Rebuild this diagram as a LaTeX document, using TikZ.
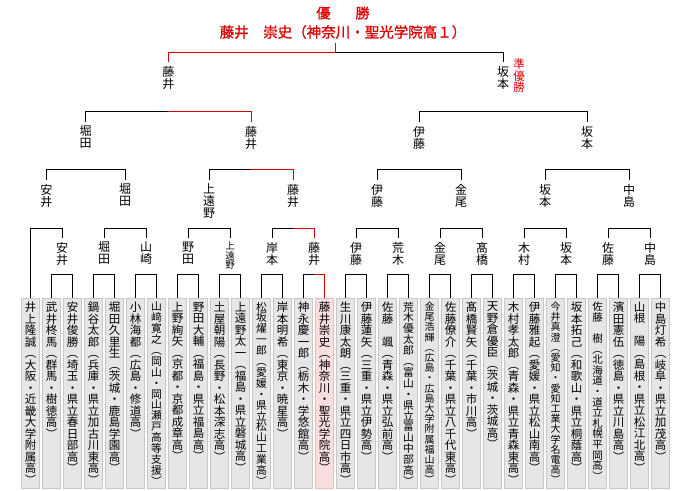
\documentclass[tikz,border=0pt]{standalone}
\usepackage{fontspec}
\newfontfamily\jp{Noto Sans CJK JP}
\newfontfamily\jpbold[FakeBold=1.2]{Noto Sans CJK JP}
\usepackage{tikz}

\definecolor{winred}{RGB}{220,0,0}
\definecolor{boxgray}{RGB}{230,230,230}
\definecolor{boxedge}{RGB}{200,200,200}
\definecolor{boxpink}{RGB}{248,222,222}
\definecolor{pinkedge}{RGB}{232,190,190}

% one character per line
\def\tateend{}
\def\tatestep#1{\ifx#1\tateend\else\hbox to 16pt{\hss#1\hss}\expandafter\tatestep\fi}
\newcommand\tate[3]{\vbox{\jp\fontsize{#1pt}{#2pt}\selectfont
  \baselineskip=#2pt\lineskiplimit=-100pt\expandafter\tatestep#3\tateend}}
\newcommand\tatebox[3]{\vbox to 182pt{\jp\fontsize{#1pt}{#2pt}\selectfont
  \baselineskip=#2pt\lineskiplimit=-100pt\expandafter\tatestep#3\tateend\vss}}

\tikzset{
  pbox/.style={draw=boxedge, fill=boxgray, line width=0.8pt, anchor=north,
    minimum width=18pt, inner xsep=1pt, inner ysep=4pt, outer sep=0pt},
  winbox/.style={pbox, draw=pinkedge, fill=boxpink},
  lbl/.style={anchor=north, inner sep=0pt, outer sep=4pt},
  win/.style={draw=winred}
}

\begin{document}
\begin{tikzpicture}[x=1pt, y=-1pt, line width=1pt]

\fill[white] (0,0) rectangle (680,490);
\useasboundingbox (0,0) rectangle (680,490);

% Champion
\node[text=winred, inner sep=0pt] (yusho) at (343,13)
  {\jpbold\fontsize{14pt}{14pt}\selectfont 優\hspace{25pt}勝};
\node[text=winred, inner sep=0pt] (title) at (343,32)
  {\jpbold\fontsize{14.5pt}{15pt}\selectfont 藤井　崇史（神奈川・聖光学院高１）};

% Players
\foreach \i/\fs/\ls/\txt in {0/11.5/11.5/井上隆誠︵大阪・近畿大学附属高︶,
    1/11.5/11.5/武井柊馬︵群馬・樹徳高︶,
    2/11.5/11.5/安井俊勝︵埼玉・県立春日部高︶,
    3/11.5/11.5/鍋谷太郎︵兵庫・県立加古川東高︶,
    4/11.5/11.5/堀田久里生︵茨城・鹿島学園高︶,
    5/11.5/11.5/小林海都︵広島・修道高︶,
    6/10.8/10.9/山﨑寛之︵岡山・岡山瀬戸高等支援︶,
    7/11.5/11.5/上野絢矢︵京都・京都成章高︶,
    8/11.5/11.5/野田大輔︵福島・県立福島高︶,
    9/11.5/11.5/土屋朝陽︵長野・松本深志高︶,
    10/11.5/11.5/上遠野太一︵福島・県立磐城高︶,
    11/10.8/10.9/松坂燿一郎︵愛媛・県立松山工業高︶,
    12/11.5/11.5/岸本明希︵東京・暁星高︶,
    13/11.5/11.5/神永慶一郎︵栃木・学悠館高︶,
    15/11.5/11.5/生川康太朗︵三重・県立四日市高︶,
    16/11.5/11.5/伊藤蓮矢︵三重・県立伊勢高︶,
    17/11.5/11.5/佐藤　颯︵青森・県立弘前高︶,
    18/10.8/10.9/荒木優太郎︵富山・県立富山中部高︶,
    19/10/10.2/金尾浩輝︵広島・広島大学附属福山高︶,
    20/11.5/11.5/佐藤僚介︵千葉・県立八千代東高︶,
    21/11.5/11.5/髙橋賢矢︵千葉・市川高︶,
    22/11.5/11.5/天野倉優臣︵茨城・茨城高︶,
    23/11.5/11.5/木村孝太郎︵青森・県立青森東高︶,
    24/11.5/11.5/伊藤雅起︵愛媛・県立松山南高︶,
    25/10/10.2/今井真澄︵愛知・愛知工業大学名電高︶,
    26/11.5/11.5/坂本拓己︵和歌山・県立桐蔭高︶,
    27/10.5/10.6/佐藤　樹︵北海道・道立札幌平岡高︶,
    28/11.5/11.5/濱田憲伍︵徳島・県立川島高︶,
    29/11.5/11.5/山根　陽︵島根・県立松江北高︶,
    30/11.5/11.5/中島灯希︵岐阜・県立加茂高︶}
  \node[pbox] (p\i) at (30.5+21*\i,298) {\tatebox{\fs}{\ls}{\txt}};
\node[winbox] (p14) at (324.5,298) {\tatebox{11.5}{11.5}{藤井崇史︵神奈川・聖光学院高︶}};

% Round 2
\foreach \n/\x/\fs/\txt in {1/62/12/安井, 3/104/12/堀田, 5/146/12/山崎,
    7/188/12/野田, 9/230/9.5/上遠野, 11/272/12/岸本, 13/314/12/藤井,
    15/356/12/伊藤, 17/398/12/荒木, 19/440/12/金尾, 21/482/12/髙橋,
    23/524/12/木村, 25/566/12/坂本, 27/608/12/佐藤, 29/650/12/中島}
  \node[lbl] (w\n) at (\x,238) {\tate{\fs}{\fs}{\txt}};

% Round 3
\foreach \n/\x/\txt in {1/46.25/安井, 2/125/堀田, 3/209/上遠野, 4/293/藤井,
    5/377/伊藤, 6/461/金尾, 7/545/坂本, 8/629/中島}
  \node[lbl] (v\n) at (\x,180) {\tate{12}{12}{\txt}};

% Quarter finals
\foreach \n/\x/\txt in {1/85.6/堀田, 2/251/藤井, 3/419/伊藤, 4/587/坂本}
  \node[lbl] (u\n) at (\x,122) {\tate{12}{12}{\txt}};

% Final
\node[lbl] (f1) at (168.3,62) {\tate{12}{12}{藤井}};
\node[lbl] (f2) at (503,62) {\tate{12}{12}{坂本}};
\node[lbl, text=winred] (runner) at (519,55) {\tate{11.5}{11.5}{準優勝}};

% Brackets
\foreach \a/\b in {1/2,3/4,5/6,7/8,9/10,11/12,13/14,15/16,17/18,19/20,
    21/22,23/24,25/26,27/28,29/30}
  \draw (p\a.north) -- ++(0,-24) -| (p\b.north);
\draw (p0.north) -- ++(0,-70) -| (w1.north);
\foreach \a/\b in {3/5,7/9,11/13,15/17,19/21,23/25,27/29}
  \draw (w\a.north) -- ++(0,-10) -| (w\b.north);
\foreach \a/\b in {1/2,3/4,5/6,7/8}
  \draw (v\a.north) -- ++(0,-11) -| (v\b.north);
\foreach \a/\b in {1/2,3/4}
  \draw (u\a.north) -- ++(0,-11) -| (u\b.north);
\draw (f1.north) -- ++(0,-10) -| (f2.north);

% Winner path
\coordinate (k1) at (314,274);
\coordinate (k2) at (293,228);
\coordinate (k3) at (251,169);
\coordinate (k4) at (168.3,111);
\coordinate (k5) at (335.7,52);
\coordinate (stem) at (335.7,43);
\draw[win] (p14.north) |- (k1);
\draw[win] (w13.north) |- (k2);
\draw[win] (v4.north) |- (k3);
\draw[win] (u2.north) |- (k4);
\draw[win] (f1.north) |- (k5) -- (stem);

\end{tikzpicture}
\end{document}
